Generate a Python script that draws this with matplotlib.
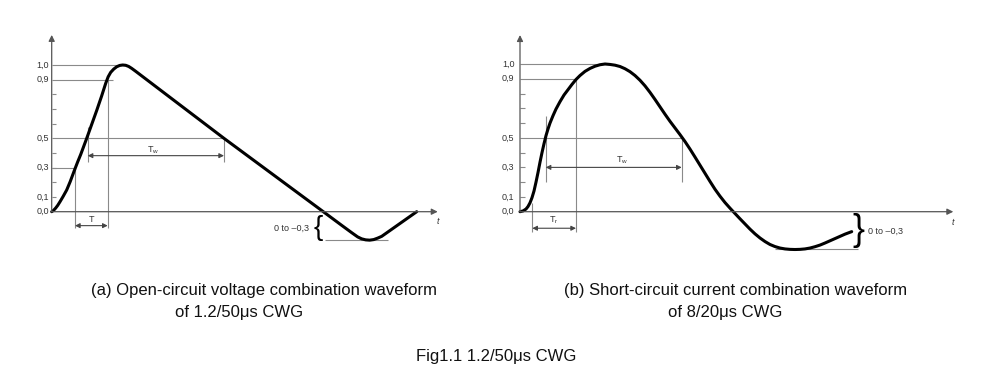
import numpy as np
import matplotlib
matplotlib.use("Agg")
import matplotlib.pyplot as plt

plt.rcParams['font.family'] = ['Liberation Sans', 'DejaVu Sans']

# (a) open-circuit voltage 1.2/50us (t in arbitrary units)
t_voltage = [0, 2, 4, 6, 8.3, 11.5, 15, 18.5, 22.6, 26, 29, 32, 35, 40, 45, 50, 54, 56.5, 59, 62,
             65, 68, 71, 74, 77, 80, 84, 172.3, 271.6, 290, 300, 306, 310, 314, 318, 322, 326,
             330, 365]
v_voltage = [0, 0.01, 0.025, 0.043, 0.068, 0.105, 0.148, 0.205, 0.28, 0.34, 0.39, 0.445, 0.50, 0.595,
             0.69, 0.79, 0.875, 0.92, 0.95, 0.972, 0.988, 0.997, 1.0, 0.998, 0.99, 0.977, 0.957,
             0.5, 0.0, -0.093, -0.143, -0.172, -0.185, -0.192, -0.194, -0.19, -0.18, -0.168, 0.0]

# (b) short-circuit current 8/20us
t_current = [0, 3, 6, 8, 10, 12, 14, 16, 18, 20, 22, 24, 26, 28, 30, 33, 36, 40, 44, 48, 52, 56,
             60, 65, 70, 75, 80, 85, 90, 95, 100, 105, 110, 115, 120, 125, 130, 135, 140, 145,
             150, 155, 160, 165, 170, 175, 180, 185, 190, 195, 200, 205, 210, 213.3, 220, 225,
             230, 235, 240, 245, 250, 255, 260, 265, 270, 275, 280, 285, 290, 295, 300, 305,
             310, 315, 320, 325, 331.7]
v_current = [0, 0.005, 0.018, 0.035, 0.06, 0.095, 0.14, 0.2, 0.265, 0.335, 0.4, 0.46, 0.515, 0.56,
             0.6, 0.65, 0.695, 0.745, 0.79, 0.826, 0.862, 0.895, 0.922, 0.95, 0.97, 0.985, 0.995,
             1.0, 0.997, 0.992, 0.983, 0.968, 0.948, 0.922, 0.89, 0.852, 0.808, 0.76, 0.71, 0.66,
             0.612, 0.567, 0.522, 0.475, 0.424, 0.37, 0.315, 0.26, 0.205, 0.152, 0.105, 0.062,
             0.024, 0.0, -0.048, -0.083, -0.118, -0.15, -0.178, -0.202, -0.222, -0.236, -0.246,
             -0.252, -0.255, -0.256, -0.255, -0.252, -0.246, -0.237, -0.226, -0.212, -0.197,
             -0.182, -0.167, -0.152, -0.135]

tick_labels = ['0,0', '0,1', '0,3', '0,5', '0,9', '1,0']
tick_values = [0.0, 0.1, 0.3, 0.5, 0.9, 1.0]
minor_ticks = [0.1, 0.2, 0.3, 0.4, 0.6, 0.7, 0.8]

GUIDE = '#8a8a8a'
AXIS = '#555555'

W, H = 997, 389
fig = plt.figure(figsize=(W / 100, H / 100), dpi=100)


def make_axes(px_left, px_right, px_top, px_bottom, x0, y0, scale):
    # one data unit in t = one pixel, y scaled so 1.0 = scale pixels
    ax = fig.add_axes([px_left / W, 1 - px_bottom / H, (px_right - px_left) / W, (px_bottom - px_top) / H])
    ax.set_xlim(px_left - x0, px_right - x0)
    ax.set_ylim((y0 - px_bottom) / scale, (y0 - px_top) / scale)
    ax.axis('off')
    return ax


def hline(ax, y, x1, x2):
    ax.plot([x1, x2], [y, y], color=GUIDE, lw=0.8, solid_capstyle='butt')


def vline(ax, x, y1, y2):
    ax.plot([x, x], [y1, y2], color=GUIDE, lw=0.8, solid_capstyle='butt')


def darrow(ax, x1, x2, y):
    ax.annotate('', xy=(x2, y), xytext=(x1, y),
                arrowprops=dict(arrowstyle='<|-|>', color='#444444', lw=0.8,
                                mutation_scale=7, shrinkA=0, shrinkB=0))


def axes_frame(ax, xend, ytop, lab_dx):
    ax.annotate('', xy=(xend, 0), xytext=(0, 0),
                arrowprops=dict(arrowstyle='-|>', color=AXIS, lw=0.9, mutation_scale=9, shrinkA=0, shrinkB=0))
    ax.annotate('', xy=(0, ytop), xytext=(0, 0),
                arrowprops=dict(arrowstyle='-|>', color=AXIS, lw=0.9, mutation_scale=9, shrinkA=0, shrinkB=0))
    for m in minor_ticks:
        hline(ax, m, 0, 4.5)
    for lab, val in zip(tick_labels, tick_values):
        ax.text(lab_dx, val, lab, ha='right', va='center', fontsize=6.5, color='#333333')
    ax.text(xend, -0.07, 't', fontsize=6.5, style='italic', ha='center', va='center', color='#333333')


# ---------- (a) ----------
axa = make_axes(0, 480, 20, 260, 51.7, 211.7, 146.7)
axes_frame(axa, 386, 1.205, -2.5)
hline(axa, 1.0, 0, 75)
hline(axa, 0.9, 0, 61)
hline(axa, 0.5, 0, 172.3)
hline(axa, 0.3, 0, 23.3)
vline(axa, 23.3, 0.3, -0.111)
vline(axa, 56, 0.9, -0.111)
darrow(axa, 23.3, 56, -0.095)
axa.text(40, -0.055, 'T', fontsize=6.5, ha='center', va='center', color='#333333')
vline(axa, 36, 0.58, 0.34)
vline(axa, 172.3, 0.5, 0.34)
darrow(axa, 36, 172.3, 0.382)
axa.text(101.3, 0.416, r'T$_\mathregular{w}$', fontsize=6.5, ha='center', va='center', color='#333333')
hline(axa, -0.194, 273.3, 336.6)
axa.text(266, -0.11, '{', fontsize=20, ha='center', va='center', color='black')
axa.text(257, -0.115, '0 to \u20130,3', fontsize=6.5, ha='right', va='center', color='#333333')
axa.plot(t_voltage, v_voltage, color='black', lw=2.2, solid_joinstyle='round', solid_capstyle='round')

# ---------- (b) ----------
axb = make_axes(490, 990, 20, 260, 520, 211.7, 147.7)
axes_frame(axb, 433.3, 1.196, -5.5)
hline(axb, 1.0, 0, 85)
hline(axb, 0.9, 0, 56)
hline(axb, 0.5, 0, 161.7)
vline(axb, 12.3, 0.06, -0.135)
vline(axb, 56, 0.9, -0.135)
darrow(axb, 12.3, 56, -0.112)
axb.text(34, -0.056, r'T$_\mathregular{r}$', fontsize=6.5, ha='center', va='center', color='#333333')
vline(axb, 25.7, 0.648, 0.203)
vline(axb, 161.7, 0.5, 0.203)
darrow(axb, 25.7, 161.7, 0.3)
axb.text(101.7, 0.35, r'T$_\mathregular{w}$', fontsize=6.5, ha='center', va='center', color='#333333')
hline(axb, -0.253, 255, 338.3)
axb.text(338.5, -0.128, '}', fontsize=26, ha='center', va='center', color='black')
axb.text(348.3, -0.13, '0 to \u20130,3', fontsize=6.5, ha='left', va='center', color='#333333')
axb.plot(t_current, v_current, color='black', lw=2.2, solid_joinstyle='round', solid_capstyle='round')

# ---------- captions ----------
cap = dict(fontsize=12, ha='center', va='center', color='#111111')
fig.text(264 / W, 1 - 290 / H, '(a) Open-circuit voltage combination waveform', **cap)
fig.text(239 / W, 1 - 312 / H, 'of 1.2/50\u03bcs CWG', **cap)
fig.text(736 / W, 1 - 290 / H, '(b) Short-circuit current combination waveform', **cap)
fig.text(725 / W, 1 - 312 / H, 'of 8/20\u03bcs CWG', **cap)
fig.text(496 / W, 1 - 357 / H, 'Fig1.1 1.2/50\u03bcs CWG', **cap)

fig.savefig('out.png', dpi=100, facecolor='white')
